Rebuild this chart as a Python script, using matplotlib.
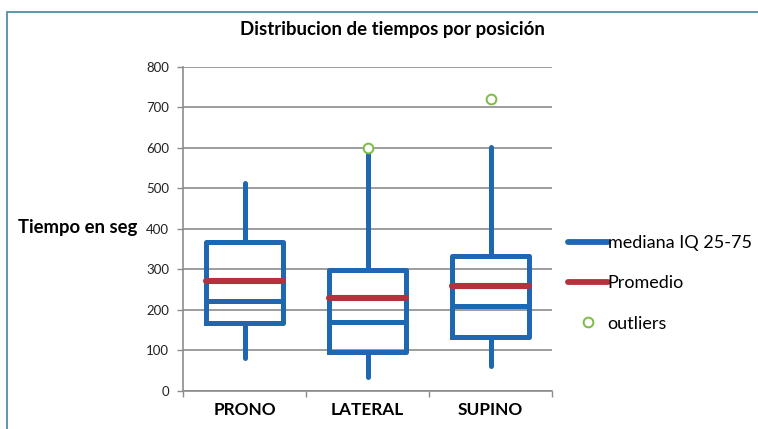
import matplotlib
matplotlib.use("Agg")
import matplotlib.pyplot as plt
from matplotlib.lines import Line2D
from matplotlib.patches import Rectangle

plt.rcParams['font.family'] = ['Lato', 'DejaVu Sans']

categories = ["PRONO", "LATERAL", "SUPINO"]
whisker_low = [80, 35, 62]
q1 = [167, 96, 132]
median = [222, 170, 210]
mean = [272, 228, 258]
q3 = [366, 298, 333]
whisker_high = [512, 600, 602]
outliers = [[], [600], [720]]

yticks = [0, 100, 200, 300, 400, 500, 600, 700, 800]

blue = "#1F67B1"
red = "#B3323C"
green = "#7DBB47"
grid_grey = "#8C8C8C"
frame_teal = "#4F8FA6"

W, H = 758, 429
fig = plt.figure(figsize=(W / 100, H / 100), dpi=100)
fig.patch.set_facecolor("white")

# outer frame (open on the right and bottom)
fig.add_artist(Rectangle((7 / W, -0.1), 1.2, 1.1 - 12 / H,
                         transform=fig.transFigure, fill=False,
                         edgecolor=frame_teal, linewidth=1.3))

ax = fig.add_axes([183 / W, 38.3 / H, 369 / W, 324 / H])

stats = []
for i, name in enumerate(categories):
    stats.append(dict(label=name, whislo=whisker_low[i], q1=q1[i], med=median[i],
                      mean=mean[i], q3=q3[i], whishi=whisker_high[i],
                      fliers=outliers[i]))

positions = [0.5, 1.5, 2.5]
ax.bxp(stats, positions=positions, widths=0.63, showmeans=True, meanline=True,
       showcaps=False, showfliers=True, patch_artist=False,
       boxprops=dict(color=blue, linewidth=3.6, solid_joinstyle="round"),
       whiskerprops=dict(color=blue, linewidth=3.6, solid_capstyle="round"),
       medianprops=dict(color=blue, linewidth=3.6),
       meanprops=dict(color=red, linewidth=4.4, linestyle="-",
                      solid_capstyle="round"),
       flierprops=dict(marker="o", markerfacecolor="white",
                       markeredgecolor=green, markersize=7,
                       markeredgewidth=1.4, linestyle="none"),
       zorder=3)

ax.set_xlim(0, 3)
ax.set_ylim(0, 800)
ax.set_yticks(yticks)
ax.set_yticklabels([str(v) for v in yticks], fontsize=9.5, color="#222222")
ax.set_xticks([0, 1, 2, 3])
ax.set_xticklabels([])
ax.set_xticks(positions, minor=True)
ax.set_xticklabels(categories, minor=True, fontsize=12.4, fontweight="bold")
ax.tick_params(axis="x", which="minor", length=0, pad=8)
ax.tick_params(axis="x", which="major", length=4, width=1, color=grid_grey,
               direction="out")
ax.tick_params(axis="y", length=4, width=1, color=grid_grey, direction="out",
               pad=6)

ax.yaxis.grid(True, color=grid_grey, linewidth=1.2)
ax.set_axisbelow(True)
for side in ("top", "right"):
    ax.spines[side].set_visible(False)
for side in ("left", "bottom"):
    ax.spines[side].set_color(grid_grey)
    ax.spines[side].set_linewidth(1.2)

fig.text(392 / W, 1 - 30 / H, "Distribucion de tiempos por posición",
         ha="center", va="center", fontsize=13.4, fontweight="bold")
fig.text(18 / W, 1 - 228 / H, "Tiempo en seg", ha="left", va="center",
         fontsize=13.3, fontweight="bold")

handles = [
    Line2D([], [], color=blue, linewidth=4.2, solid_capstyle="round"),
    Line2D([], [], color=red, linewidth=4.2, solid_capstyle="round"),
    Line2D([], [], color=green, marker="o", markerfacecolor="white",
           markeredgewidth=1.4, markersize=7, linestyle="none"),
]
labels = ["mediana IQ 25-75", "Promedio", "outliers"]
fig.legend(handles, labels, loc="upper left",
           bbox_to_anchor=(568 / W, 1 - 235 / H), frameon=False,
           fontsize=13, handlelength=2.2, handletextpad=0.0,
           labelspacing=1.35, borderpad=0, borderaxespad=0)

fig.savefig("out.png", dpi=100, facecolor="white")
